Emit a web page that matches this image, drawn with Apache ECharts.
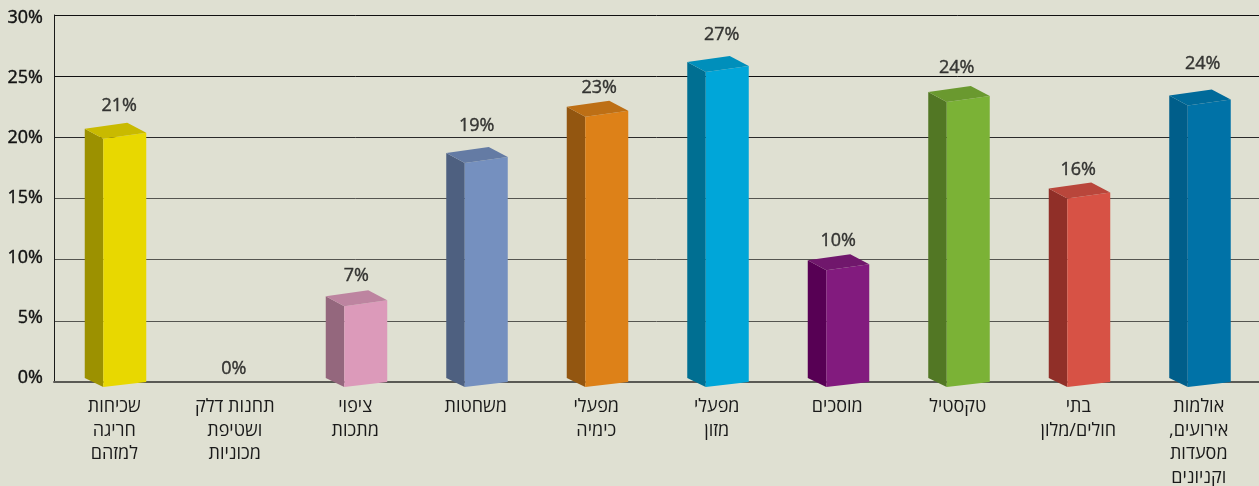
<!DOCTYPE html>
<html><head><meta charset="utf-8">
<style>html,body{margin:0;padding:0;background:#dfe0d2}#c{width:1259px;height:486px}</style>
<script src="https://cdn.jsdelivr.net/npm/echarts@6/dist/echarts.min.js"></script>
</head><body><div id="c"></div>
<script>
const categories = ['שכיחות\nחריגה\nלמזהם','תחנות דלק\nושטיפת\nמכוניות','ציפוי\nמתכות','משחטות','מפעלי\nכימיה','מפעלי\nמזון','מוסכים','טקסטיל','בתי\nחולים/מלון','אולמות\nאירועים,\u200f\nמסעדות\nוקניונים'];
const values = [21.2,0,7.5,19.2,23,26.65,10.45,24.2,16.3,23.9];
// printed labels and the axis level they are printed at
const labels = ['21%','0%','7%','19%','23%','27%','10%','24%','16%','24%'];
const labelLevels = [22.55,1.05,8.65,20.9,24.05,28.4,11.5,25.65,17.3,26.0];
const yTicks = [0,5,10,15,20,25,30];
const frontColors = ['#e8d800','#e8d800','#dc9aba','#7590bf','#dd8118','#00a6d9','#821b7e','#7bb236','#d75245','#0072a7'];
const sideColors  = ['#9c9100','#9c9100','#94677d','#4e6080','#935610','#006f92','#570054','#527724','#902f28','#005e8a'];
const topColors   = ['#c9ba00','#c9ba00','#bd84a0','#647ba4','#bd6f15','#008fbb','#70176c','#6a992f','#b9463b','#006a9a'];

const FONT = '"Open Sans","Noto Sans",sans-serif';
const labelNudge = [5,-1,1,1,3,5,1,-1,0,4];
const chart = echarts.init(document.getElementById('c'), null, {renderer:'canvas'});

function renderBar(params, api){
  const i = api.value(0), v = api.value(1);
  if(!v) return null;
  const c = api.coord([i,v]), b = api.coord([i,0]);
  const cx = b[0], x0 = cx-29.5, x1 = cx-11, x2 = cx+32, x3 = cx+13;
  const top = c[1];
  const f = [[x1,top+16],[x2,top+10],[x2,b[1]],[x1,b[1]+5]];
  const s = [[x0,top+6],[x1,top+16],[x1,b[1]+5],[x0,b[1]-4]];
  const t = [[x0,top+6],[x3,top],[x2,top+10],[x1,top+16]];
  const poly = (p,col)=>({type:'polygon',shape:{points:p},style:{fill:col}});
  return {type:'group',children:[poly(s,sideColors[i]),poly(f,frontColors[i]),poly(t,topColors[i])]};
}

const numText = {color:'#111',fontFamily:FONT,fontSize:18,fontWeight:400,textBorderColor:'#111',textBorderWidth:0.4};

chart.setOption({
  animation:false,
  backgroundColor:'#dfe0d2',
  grid:[
    {left:54,right:0,top:15,bottom:104,outerBoundsMode:'none'},
    {left:54,right:0,top:18,bottom:108,outerBoundsMode:'none'}
  ],
  xAxis:[
    {type:'category',data:categories,gridIndex:0,
      axisLine:{lineStyle:{color:'#5a5a55',width:2}},axisTick:{show:false},
      axisLabel:{interval:0,color:'#1a1a1a',fontFamily:FONT,fontSize:18,lineHeight:23.7,margin:13}},
    {type:'category',data:categories,gridIndex:1,show:false}
  ],
  yAxis:[
    {type:'value',min:0,max:30,interval:5,gridIndex:0,
      axisLine:{show:true,lineStyle:{color:'#1a1a1a',width:1}},axisTick:{show:false},
      splitLine:{lineStyle:{color:['#5a5a55','#555550','#555550','#555550','#2a2a2a','#111','#111'],width:1}},
      axisLabel:{show:false}},
    {type:'value',min:0,max:30,interval:5,gridIndex:1,
      axisLine:{show:false},axisTick:{show:false},splitLine:{show:false},
      axisLabel:Object.assign({margin:11,formatter:'{value}%'},numText)}
  ],
  series:[
    {type:'custom',renderItem:renderBar,data:values.map((v,i)=>[i,v]),encode:{x:0,y:1},z:3,clip:false},
    {type:'scatter',symbolSize:0,z:4,
      data:labelLevels.map((v,i)=>({value:[i,v,labels[i]],label:{offset:[labelNudge[i],0]}})),
      label:Object.assign({show:true,position:'inside',formatter:p=>p.value[2]},numText)}
  ]
});
</script></body></html>
